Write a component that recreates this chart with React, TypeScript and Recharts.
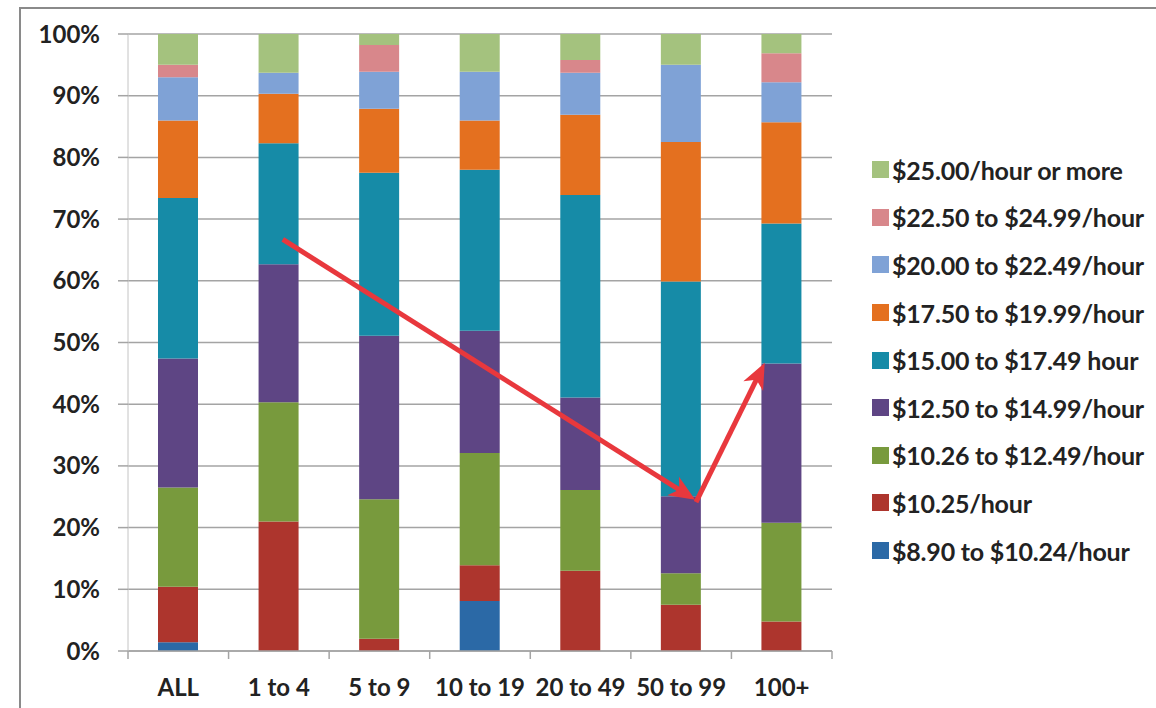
import React from "react";
import { Bar, BarChart, CartesianGrid, ReferenceLine, XAxis, YAxis } from "recharts";

const categories = ["ALL", "1 to 4", "5 to 9", "10 to 19", "20 to 49", "50 to 99", "100+"];

// share of workers per wage band (%), listed from the bottom of each stack up
const wage890to1024 = [1.4, 0, 0, 8.1, 0, 0, 0];
const wage1025 = [9.0, 21.0, 2.0, 5.8, 13.0, 7.5, 4.8];
const wage1026to1249 = [16.1, 19.3, 22.6, 18.2, 13.1, 5.1, 16.0];
const wage1250to1499 = [20.9, 22.4, 26.5, 19.8, 15.0, 12.5, 25.8];
const wage1500to1749 = [26.0, 19.6, 26.4, 26.1, 32.8, 34.8, 22.7];
const wage1750to1999 = [12.6, 8.0, 10.4, 8.0, 13.0, 22.6, 16.4];
const wage2000to2249 = [7.0, 3.4, 6.0, 7.9, 6.8, 12.5, 6.5];
const wage2250to2499 = [2.0, 0, 4.3, 0, 2.1, 0, 4.7];
const wage2500plus = [5.0, 6.3, 1.8, 6.1, 4.2, 5.0, 3.1];

const yTicks = [0, 10, 20, 30, 40, 50, 60, 70, 80, 90, 100];

const series = [
  { key: "w890", label: "$8.90 to $10.24/hour", color: "#2b69a6", values: wage890to1024 },
  { key: "w1025", label: "$10.25/hour", color: "#ad352d", values: wage1025 },
  { key: "w1026", label: "$10.26 to $12.49/hour", color: "#789a3d", values: wage1026to1249 },
  { key: "w1250", label: "$12.50 to $14.99/hour", color: "#5e4584", values: wage1250to1499 },
  { key: "w1500", label: "$15.00 to $17.49 hour", color: "#168ba7", values: wage1500to1749 },
  { key: "w1750", label: "$17.50 to $19.99/hour", color: "#e4701f", values: wage1750to1999 },
  { key: "w2000", label: "$20.00 to $22.49/hour", color: "#7fa2d6", values: wage2000to2249 },
  { key: "w2250", label: "$22.50 to $24.99/hour", color: "#d8878b", values: wage2250to2499 },
  { key: "w2500", label: "$25.00/hour or more", color: "#a4c27e", values: wage2500plus },
];

const data = categories.map((name, i) => {
  const row: Record<string, string | number> = { name };
  series.forEach((s) => {
    row[s.key] = s.values[i];
  });
  return row;
});

// red annotation arrows, anchored to category / percent positions
const arrows = [
  { from: { x: "1 to 4", y: 66.5 }, to: { x: "50 to 99", y: 24.5 }, dxFrom: 6, dxTo: 14 },
  { from: { x: "50 to 99", y: 24.5 }, to: { x: "100+", y: 46.7 }, dxFrom: 16, dxTo: -17 },
];

const W = 1156;
const H = 708;
const PLOT_LEFT = 128;
const PLOT_RIGHT = 832;
const PLOT_TOP = 34;
const PLOT_BOTTOM = 651;
const Y_AXIS_W = 100;
const X_AXIS_H = 50;

const FONT = "Lato, 'Open Sans', sans-serif";
const TEXT = "#222";
const GRID = "#a4a4a4";
const ARROW = "#e8383d";

function CategoryTick(props: any) {
  const { x, payload, index } = props;
  const step = (PLOT_RIGHT - PLOT_LEFT) / categories.length;
  const last = index === categories.length - 1;
  return (
    <g>
      <line x1={x - step / 2} x2={x - step / 2} y1={PLOT_BOTTOM} y2={PLOT_BOTTOM + 8} stroke={GRID} strokeWidth={1.5} />
      {last && <line x1={x + step / 2} x2={x + step / 2} y1={PLOT_BOTTOM} y2={PLOT_BOTTOM + 8} stroke={GRID} strokeWidth={1.5} />}
      <text x={x} y={PLOT_BOTTOM + 45} textAnchor="middle" fill={TEXT} fontSize={24} fontWeight={700} fontFamily={FONT}>
        {payload.value}
      </text>
    </g>
  );
}

function Arrow(props: any) {
  const { x1, y1, x2, y2, dxFrom, dxTo } = props;
  if ([x1, y1, x2, y2].some((v) => typeof v !== "number" || Number.isNaN(v))) return null;
  const sx = x1 + dxFrom;
  const ex = x2 + dxTo;
  const len = Math.hypot(ex - sx, y2 - y1);
  const ux = (ex - sx) / len;
  const uy = (y2 - y1) / len;
  const nx = -uy;
  const ny = ux;
  const headL = 26;
  const headW = 22;
  const notch = 0.72;
  const bx = ex - ux * headL;
  const by = y2 - uy * headL;
  const head = [
    [ex, y2],
    [bx + (nx * headW) / 2, by + (ny * headW) / 2],
    [ex - ux * headL * notch, y2 - uy * headL * notch],
    [bx - (nx * headW) / 2, by - (ny * headW) / 2],
  ]
    .map((p) => p.join(","))
    .join(" ");
  return (
    <g>
      <line
        x1={sx}
        y1={y1}
        x2={ex - ux * headL * notch}
        y2={y2 - uy * headL * notch}
        stroke={ARROW}
        strokeWidth={5}
        strokeLinecap="square"
      />
      <polygon points={head} fill={ARROW} />
    </g>
  );
}

function WageLegend() {
  const items = [...series].reverse();
  return (
    <div style={{ position: "absolute", left: 872, top: 146, fontFamily: FONT }}>
      {items.map((s) => (
        <div key={s.key} style={{ display: "flex", alignItems: "center", height: 47.6 }}>
          <span style={{ width: 17, height: 17, background: s.color, display: "inline-block", marginRight: 3 }} />
          <span style={{ fontSize: 25, fontWeight: 700, color: TEXT, whiteSpace: "nowrap", letterSpacing: -0.2 }}>{s.label}</span>
        </div>
      ))}
    </div>
  );
}

export default function App() {
  return (
    <div style={{ position: "absolute", left: 0, top: 0, width: W, height: H, background: "#fff", overflow: "hidden" }}>
      <div
        style={{
          position: "absolute",
          left: 19,
          top: 7,
          width: W,
          height: H,
          borderLeft: "2px solid #8a8a8a",
          borderTop: "2px solid #8a8a8a",
        }}
      />
      <div style={{ position: "absolute", left: 0, top: 0 }}>
        <BarChart
          width={W}
          height={H}
          data={data}
          barSize={40}
          margin={{
            top: PLOT_TOP,
            right: W - PLOT_RIGHT,
            bottom: H - PLOT_BOTTOM - X_AXIS_H,
            left: PLOT_LEFT - Y_AXIS_W,
          }}
        >
          <CartesianGrid vertical={false} stroke={GRID} strokeWidth={1.5} />
          <XAxis
            dataKey="name"
            height={X_AXIS_H}
            tickLine={false}
            axisLine={{ stroke: GRID, strokeWidth: 1.5 }}
            tick={<CategoryTick />}
            interval={0}
          />
          <YAxis
            width={Y_AXIS_W}
            domain={[0, 100]}
            ticks={yTicks}
            interval={0}
            tickFormatter={(v: number) => `${v}%`}
            tickSize={10}
            tickMargin={18}
            tickLine={{ stroke: GRID, strokeWidth: 1.5 }}
            axisLine={{ stroke: "#c4c4c4", strokeWidth: 1 }}
            tick={{ fill: TEXT, fontSize: 24, fontWeight: 700, fontFamily: FONT }}
          />
          {series.map((s) => (
            <Bar key={s.key} dataKey={s.key} name={s.label} stackId="wage" fill={s.color} isAnimationActive={false} />
          ))}
          {arrows.map((a, i) => (
            <ReferenceLine
              key={i}
              segment={[a.from, a.to]}
              ifOverflow="visible"
              shape={(p: any) => <Arrow {...p} dxFrom={a.dxFrom} dxTo={a.dxTo} />}
            />
          ))}
        </BarChart>
      </div>
      <WageLegend />
    </div>
  );
}
